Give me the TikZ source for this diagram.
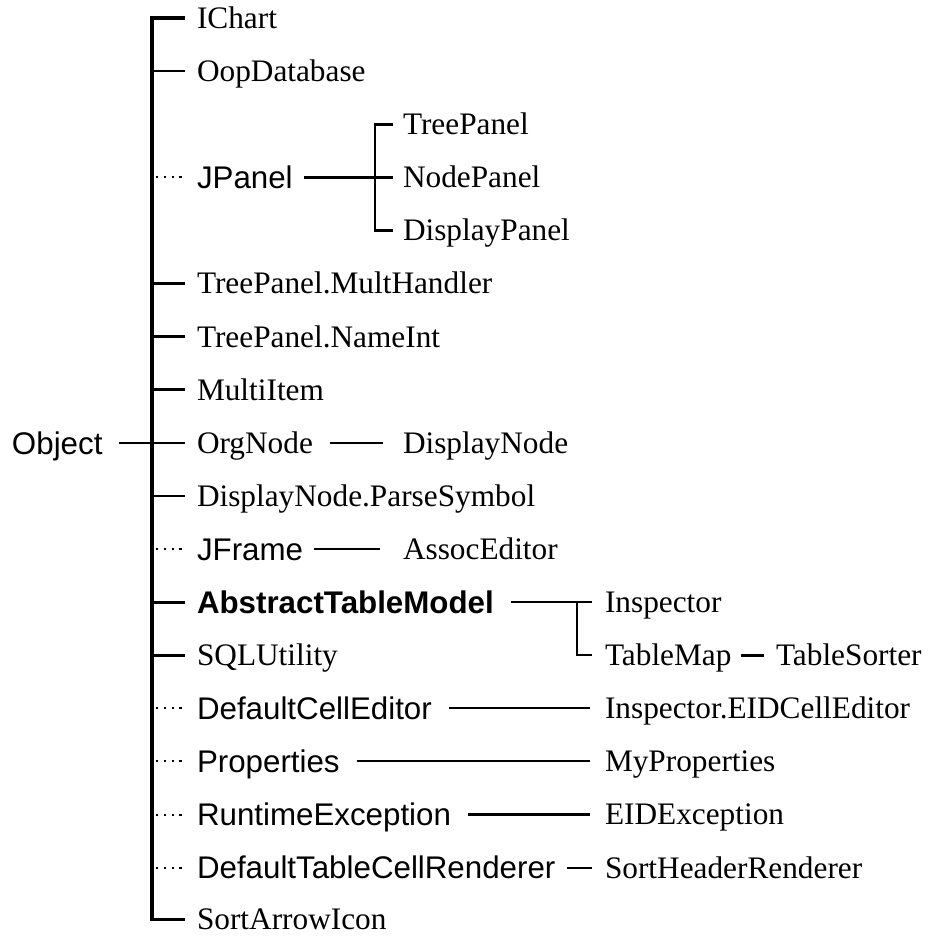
\documentclass[tikz,border=0pt]{standalone}
\usepackage{fontspec}
\setmainfont{Liberation Serif}
\newfontfamily\hvfont{Liberation Sans}
\begin{document}
\begin{tikzpicture}[x=1pt,y=-1pt,
  lbl/.style={anchor=west,inner sep=0pt,outer sep=0pt,text depth=0pt,text height=20.8pt,
     font=\fontsize{31.3}{36}\selectfont},
  slbl/.style={lbl,text height=22.6pt,font=\hvfont\fontsize{31.3}{36}\selectfont},
  blbl/.style={lbl,text height=22.6pt,font=\hvfont\bfseries\fontsize{31.3}{36}\selectfont},
  trunk/.style={line width=3.2pt},
  stub/.style={line width=2.8pt},
  dotstub/.style={line width=2pt,dash pattern=on 2.2pt off 5.6pt},
  conn/.style={line width=2.6pt},
  thin/.style={line width=2.1pt}]
\useasboundingbox (0,0) rectangle (931,936);
\def\r#1{18+53.1*#1}
\node[slbl] (object) at (12,{\r{8}}) {Object};
\node[lbl] (ichart) at (197,{\r{0}}) {IChart};
\node[lbl] (oop) at (197,{\r{1}}) {OopDatabase};
\node[slbl] (jpanel) at (197,{\r{3}}) {JPanel};
\node[lbl] (treepanel) at (403,{\r{2}}) {TreePanel};
\node[lbl] (nodepanel) at (403,{\r{3}}) {NodePanel};
\node[lbl] (displaypanel) at (403,{\r{4}}) {DisplayPanel};
\node[lbl] (multhandler) at (197,{\r{5}}) {TreePanel.MultHandler};
\node[lbl] (nameint) at (197,{\r{6}}) {TreePanel.NameInt};
\node[lbl] (multiitem) at (197,{\r{7}}) {MultiItem};
\node[lbl] (orgnode) at (197,{\r{8}}) {OrgNode};
\node[lbl] (displaynode) at (403,{\r{8}}) {DisplayNode};
\node[lbl] (parsesymbol) at (197,{\r{9}}) {DisplayNode.ParseSymbol};
\node[slbl] (jframe) at (197,{\r{10}}) {JFrame};
\node[lbl] (assoceditor) at (403,{\r{10}}) {AssocEditor};
\node[blbl] (atm) at (197,{\r{11}}) {AbstractTableModel};
\node[lbl] (inspector) at (605,{\r{11}}) {Inspector};
\node[lbl] (sqlutility) at (197,{\r{12}}) {SQLUtility};
\node[lbl] (tablemap) at (605,{\r{12}}) {TableMap};
\node[lbl] (tablesorter) at (776,{\r{12}}) {TableSorter};
\node[slbl] (dce) at (197,{\r{13}}) {DefaultCellEditor};
\node[lbl] (eidce) at (605,{\r{13}}) {Inspector.EIDCellEditor};
\node[slbl] (properties) at (197,{\r{14}}) {Properties};
\node[lbl] (myprops) at (605,{\r{14}}) {MyProperties};
\node[slbl] (runtime) at (197,{\r{15}}) {RuntimeException};
\node[lbl] (eidexc) at (605,{\r{15}}) {EIDException};
\node[slbl] (dtcr) at (197,{\r{16}}) {DefaultTableCellRenderer};
\node[lbl] (shr) at (605,{\r{16}}) {SortHeaderRenderer};
\node[lbl] (sortarrow) at (197,{\r{17}-1.5}) {SortArrowIcon};
% trunk
\draw[trunk] ([xshift=-12pt]ichart.west) -| ([xshift=-45pt]sortarrow.west) -- ([xshift=-12pt]sortarrow.west);
\foreach \n in {oop,multhandler,nameint,multiitem,parsesymbol,atm,sqlutility}
  \draw[stub] ([xshift=-45pt]\n.west) -- ([xshift=-12pt]\n.west);
\foreach \n in {jpanel,jframe,dce,properties,runtime,dtcr}
  \draw[dotstub] ([xshift=-41pt]\n.west) -- ([xshift=-12pt]\n.west);
\draw[thin] ([xshift=17pt]object.east) -- ([xshift=-12pt]orgnode.west);
% JPanel subtree
\draw[conn] ([xshift=11pt]jpanel.east) -- ([xshift=-10pt]nodepanel.west);
\draw[stub] ([xshift=-10pt]treepanel.west) -| ([xshift=-28pt]displaypanel.west) -- ([xshift=-10pt]displaypanel.west);
% other connectors
\draw[thin] ([xshift=17pt]orgnode.east) -- ([xshift=-20pt]displaynode.west);
\draw[conn] ([xshift=11pt]jframe.east) -- ([xshift=-23pt]assoceditor.west);
\draw[conn] ([xshift=17pt]atm.east) -- ([xshift=-13pt]inspector.west);
\draw[thin] ([xshift=-28pt]inspector.west) |- ([xshift=-13pt]tablemap.west);
\draw[conn] ([xshift=10pt]tablemap.east) -- ([xshift=-12pt]tablesorter.west);
\draw[thin] ([xshift=17pt]dce.east) -- ([xshift=-15pt]eidce.west);
\draw[thin] ([xshift=17pt]properties.east) -- ([xshift=-15pt]myprops.west);
\draw[thin] ([xshift=17pt]runtime.east) -- ([xshift=-15pt]eidexc.west);
\draw[thin] ([xshift=12pt]dtcr.east) -- ([xshift=-13pt]shr.west);
\end{tikzpicture}
\end{document}
